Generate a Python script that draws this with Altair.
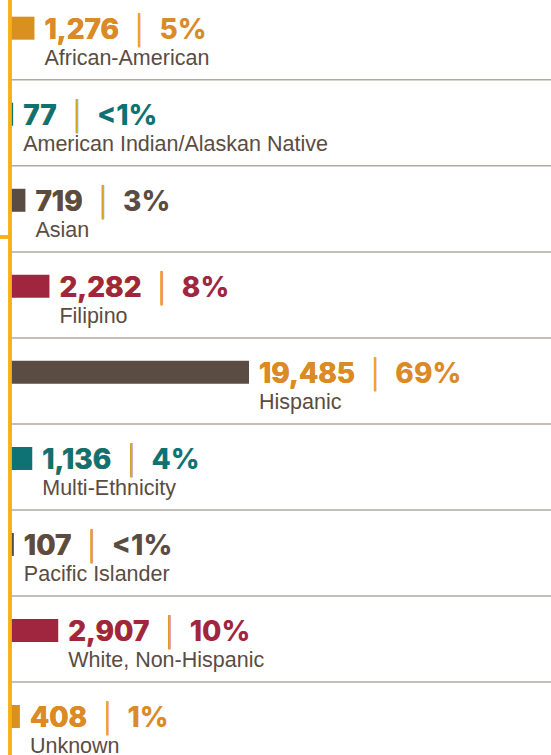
import altair as alt
import pandas as pd

categories = ["African-American", "American Indian/Alaskan Native", "Asian", "Filipino",
              "Hispanic", "Multi-Ethnicity", "Pacific Islander", "White, Non-Hispanic", "Unknown"]
counts = [1276, 77, 719, 2282, 19485, 1136, 107, 2907, 408]
pct_labels = ["5%", "<1%", "3%", "8%", "69%", "4%", "<1%", "10%", "1%"]

ORANGE_BAR = "#D9901F"
ORANGE_TXT = "#DA8A27"
TEAL = "#0E7274"
BROWN = "#5A4C42"
MAROON = "#A0263F"
bar_colors = [ORANGE_BAR, TEAL, BROWN, MAROON, BROWN, TEAL, BROWN, MAROON, ORANGE_BAR]
text_colors = [ORANGE_TXT, TEAL, BROWN, MAROON, ORANGE_TXT, TEAL, BROWN, MAROON, ORANGE_TXT]

df = pd.DataFrame({
    "idx": list(range(len(categories))),
    "category": categories,
    "count": counts,
    "pct": pct_labels,
})
df["count_label"] = [f"{c:,}" for c in counts]

W, H = 551, 755
base = alt.Chart(df)

xscale = alt.Scale(type="pow", exponent=0.85, domain=[0, max(counts)], range=[11, 249], nice=False)
yscale = alt.Scale(domain=[-0.2695, 8.389], reverse=True, nice=False, zero=False)
X = alt.X("count:Q", scale=xscale, axis=None)
Y = alt.Y("idx:Q", scale=yscale, axis=None)

bars = base.mark_bar(height=23, orient="horizontal").encode(
    x=X, x2=alt.datum(0), y=Y,
    fill=alt.Fill("category:N", scale=alt.Scale(domain=categories, range=bar_colors), legend=None),
)

seps = base.transform_filter("datum.idx < 8").transform_calculate(
    sy="datum.idx + 0.6"
).mark_rule(color="#B3A9A1", strokeWidth=1.5).encode(
    y=alt.Y("sy:Q", scale=yscale, axis=None), x=alt.value(10), x2=alt.value(W)
)

vfont = dict(font="Inter", fontWeight=800, fontSize=28, align="left", baseline="alphabetic", dx=10, dy=10.5)
GAP = "\u00a0\u2009"
BAR = "\u2502"

full_txt = base.transform_calculate(
    t=f"datum.count_label + '{GAP}{BAR}{GAP}' + datum.pct"
).mark_text(**vfont).encode(
    x=X, y=Y, text="t:N",
    fill=alt.Fill("category:N", scale=alt.Scale(domain=categories, range=text_colors), legend=None),
)
sep_txt = base.transform_calculate(
    t=f"datum.count_label + '{GAP}{BAR}'"
).mark_text(fill="#EFA51E", **vfont).encode(x=X, y=Y, text="t:N")
val_txt = base.mark_text(**vfont).encode(
    x=X, y=Y, text="count_label:N",
    fill=alt.Fill("category:N", scale=alt.Scale(domain=categories, range=text_colors), legend=None),
)

names = base.mark_text(font="Liberation Sans", fontSize=21.5, align="left", baseline="alphabetic",
                       dx=10, dy=36.5, fill="#5A4C42").encode(x=X, y=Y, text="category:N")

vline = base.mark_rule(color="#F8B013", strokeWidth=2.5).encode(
    x=alt.value(10), y=alt.value(0), y2=alt.value(H))
tick = base.mark_rule(color="#F8B013", strokeWidth=2.5).encode(
    x=alt.value(0), x2=alt.value(10), y=alt.value(237))

chart = alt.layer(seps, bars, full_txt, sep_txt, val_txt, names, vline, tick).resolve_scale(
    fill="independent"
).properties(
    width=W, height=H, autosize=alt.AutoSizeParams(type="none"), padding=0
).configure_view(stroke=None)

chart.save("out.html", embed_options={"renderer": "svg", "actions": False})
